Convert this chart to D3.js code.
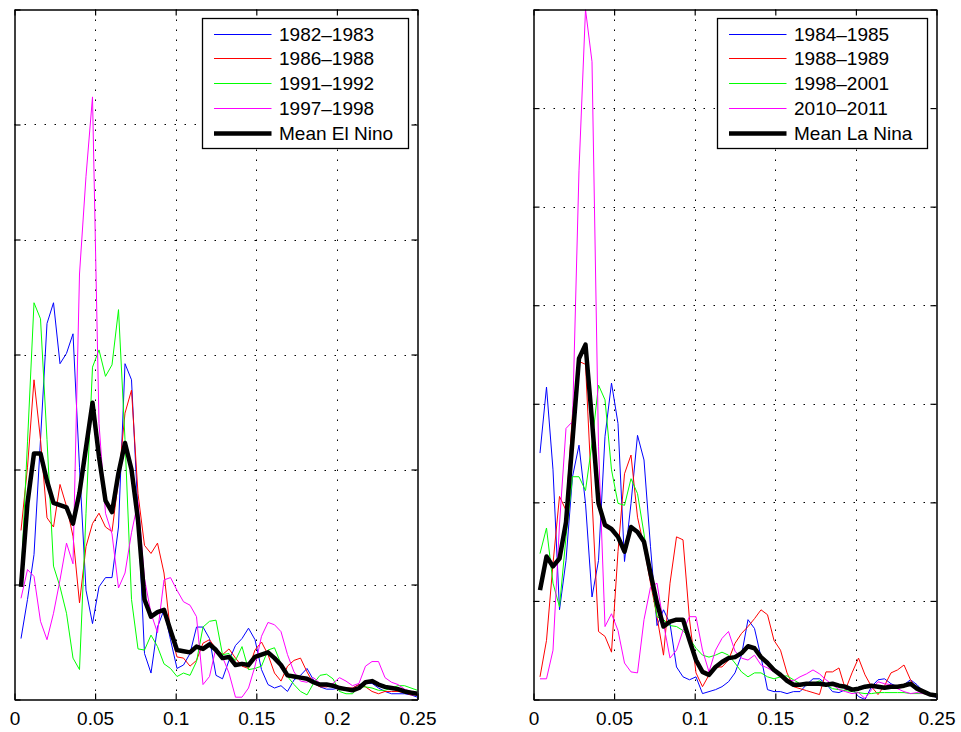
<!DOCTYPE html>
<html>
<head>
<meta charset="utf-8">
<script src="https://cdn.jsdelivr.net/npm/d3@7"></script>
<style>
  body { margin: 0; background: #fff; }
  svg text { font-family: "Liberation Sans", Arial, Helvetica, sans-serif; }
</style>
</head>
<body>
<div id="chart"></div>
<script>
// 62 spectral estimates per record, frequency f = k/248 (k = 1..62)
const nFreq = 62;
const freqs = d3.range(1, nFreq + 1).map(k => k / 248);
const xTicks = [0, 0.05, 0.1, 0.15, 0.2, 0.25];

const elNinoYears = ["1982\u20131983", "1986\u20131988", "1991\u20131992", "1997\u20131998"];
const laNinaYears = ["1984\u20131985", "1988\u20131989", "1998\u20132001", "2010\u20132011"];
const seriesColors = ["#0000ff", "#ff0000", "#00ff00", "#ff00ff"];

// El Nino events (left panel), arbitrary units, one grid step = 1
const elNino8283 = [0.53,0.87,1.26,2.26,3.27,3.45,2.92,3.01,3.18,2.02,
  0.95,0.66,0.98,1.06,1.06,1.50,2.92,2.78,1.62,0.40,
  0.23,0.63,0.78,0.52,0.27,0.30,0.40,0.63,0.63,0.53,
  0.21,0.18,0.34,0.47,0.53,0.62,0.52,0.26,0.13,0.10,
  0.12,0.07,0.17,0.21,0.27,0.17,0.11,0.09,0.09,0.10,
  0.08,0.10,0.13,0.14,0.14,0.10,0.07,0.05,0.05,0.05,
  0.04,0.02];
const elNino8688 = [1.47,2.02,2.78,2.26,1.58,1.50,1.87,1.68,1.42,0.84,
  1.33,1.53,1.62,1.50,1.46,1.91,2.49,2.69,1.79,1.34,
  1.27,1.36,1.10,0.58,0.37,0.36,0.29,0.34,0.49,0.52,
  0.44,0.39,0.44,0.36,0.29,0.27,0.43,0.50,0.39,0.23,
  0.16,0.29,0.34,0.36,0.24,0.14,0.11,0.11,0.12,0.10,
  0.10,0.10,0.13,0.11,0.07,0.05,0.07,0.07,0.07,0.06,
  0.04,0.04];
const elNino9192 = [1.04,2.24,3.45,3.31,2.26,1.16,0.98,0.75,0.36,0.26,
  1.62,2.89,3.04,2.81,2.91,3.39,2.26,0.87,0.44,0.43,
  0.56,0.46,0.31,0.27,0.20,0.23,0.21,0.33,0.63,0.68,
  0.69,0.39,0.40,0.34,0.46,0.26,0.27,0.29,0.43,0.45,
  0.31,0.20,0.13,0.07,0.04,0.14,0.21,0.22,0.18,0.07,
  0.05,0.05,0.11,0.11,0.10,0.08,0.08,0.10,0.12,0.12,
  0.10,0.08];
const elNino9798 = [0.88,1.13,1.07,0.68,0.52,0.75,1.04,1.36,1.18,3.70,
  4.55,5.24,2.40,1.62,1.44,0.97,1.10,1.45,1.72,1.05,
  0.75,0.58,1.04,1.06,0.95,0.85,0.82,0.72,0.13,0.20,
  0.45,0.37,0.23,0.02,0.02,0.10,0.29,0.55,0.67,0.65,
  0.59,0.39,0.24,0.16,0.15,0.19,0.14,0.11,0.14,0.19,
  0.16,0.12,0.14,0.29,0.33,0.33,0.19,0.15,0.13,0.09,
  0.07,0.05];
const elNinoMean = [0.98,1.71,2.14,2.14,1.90,1.71,1.69,1.67,1.53,1.80,
  2.19,2.58,2.11,1.73,1.63,1.97,2.23,2.00,1.56,0.87,
  0.72,0.76,0.78,0.60,0.43,0.42,0.41,0.46,0.44,0.48,
  0.43,0.36,0.37,0.30,0.31,0.30,0.37,0.39,0.41,0.36,
  0.30,0.21,0.20,0.19,0.18,0.15,0.13,0.13,0.12,0.10,
  0.09,0.08,0.10,0.15,0.16,0.13,0.11,0.10,0.09,0.07,
  0.06,0.05];

// La Nina events (right panel)
const laNina8485 = [2.50,3.17,2.33,0.91,1.41,2.26,2.58,1.99,1.04,1.41,
  2.67,3.21,2.80,1.40,1.99,2.68,2.43,1.55,0.75,0.91,
  0.77,0.33,0.23,0.20,0.23,0.06,0.08,0.10,0.13,0.18,
  0.27,0.45,0.81,0.72,0.43,0.10,0.08,0.08,0.06,0.08,
  0.08,0.15,0.21,0.21,0.16,0.08,0.07,0.10,0.11,0.03,
  0.00,0.13,0.20,0.21,0.16,0.13,0.15,0.20,0.15,0.08,
  0.05,0.02];
const laNina8889 = [0.23,0.60,1.38,2.06,1.92,2.90,3.43,3.40,2.04,0.69,
  0.64,0.48,1.50,2.29,2.48,1.85,1.55,1.18,0.84,0.45,
  1.18,1.65,1.62,0.81,0.27,0.13,0.25,0.33,0.33,0.40,
  0.57,0.67,0.74,0.82,0.91,0.86,0.60,0.50,0.27,0.13,
  0.11,0.09,0.07,0.05,0.28,0.28,0.32,0.10,0.27,0.42,
  0.25,0.13,0.05,0.14,0.27,0.30,0.35,0.20,0.10,0.06,
  0.05,0.03];
const laNina9801 = [1.48,1.74,1.18,0.94,1.65,2.26,2.26,2.12,2.60,3.19,
  3.04,2.33,1.99,1.97,2.24,2.09,1.68,1.24,0.84,0.81,
  0.75,0.74,0.70,0.62,0.52,0.45,0.43,0.45,0.48,0.45,
  0.37,0.28,0.23,0.27,0.27,0.23,0.21,0.23,0.24,0.20,
  0.16,0.14,0.16,0.19,0.15,0.11,0.10,0.09,0.08,0.07,
  0.06,0.06,0.07,0.07,0.07,0.07,0.07,0.06,0.06,0.06,
  0.06,0.06];
const laNina1011 = [0.21,0.21,0.50,1.78,2.75,2.82,5.37,7.00,6.47,2.57,
  0.74,0.87,0.70,0.37,0.28,0.27,0.81,1.14,1.18,0.77,
  0.42,0.50,0.70,0.84,0.84,0.50,0.28,0.50,0.62,0.69,
  0.49,0.42,0.40,0.45,0.35,0.32,0.28,0.25,0.20,0.19,
  0.23,0.26,0.30,0.26,0.20,0.15,0.10,0.08,0.06,0.07,
  0.01,0.10,0.18,0.16,0.15,0.11,0.08,0.06,0.07,0.06,
  0.05,0.03];
const laNinaMean = [1.11,1.45,1.35,1.43,1.80,2.63,3.46,3.60,2.83,1.99,
  1.77,1.73,1.65,1.50,1.75,1.70,1.60,1.28,0.98,0.74,
  0.79,0.81,0.81,0.60,0.40,0.28,0.25,0.33,0.38,0.42,
  0.43,0.47,0.54,0.52,0.43,0.37,0.30,0.25,0.19,0.15,
  0.15,0.16,0.16,0.16,0.15,0.16,0.14,0.13,0.10,0.11,
  0.13,0.14,0.13,0.12,0.13,0.13,0.14,0.16,0.11,0.08,
  0.05,0.04];

const width = 961, height = 732;
const plotTop = 9.5, plotBottom = 699.5;

const svg = d3.select("#chart").append("svg")
  .attr("width", width)
  .attr("height", height)
  .style("background", "#fff");

const panels = [
  {id: "elnino", left: 14.5, right: 417.5, yMax: 6, years: elNinoYears,
   series: [elNino8283, elNino8688, elNino9192, elNino9798], mean: elNinoMean,
   meanLabel: "Mean El Nino", legendX: 202.5, legendW: 206},
  {id: "lanina", left: 533.5, right: 936.5, yMax: 7, years: laNinaYears,
   series: [laNina8485, laNina8889, laNina9801, laNina1011], mean: laNinaMean,
   meanLabel: "Mean La Nina", legendX: 717.5, legendW: 210}
];

panels.forEach(drawPanel);

function drawPanel(p) {
  const x = d3.scaleLinear().domain([0, 0.25]).range([p.left, p.right]);
  const y = d3.scaleLinear().domain([0, p.yMax]).range([plotBottom, plotTop]);
  const g = svg.append("g").attr("id", p.id);

  g.append("clipPath").attr("id", "clip-" + p.id)
    .append("rect")
    .attr("x", p.left).attr("y", plotTop)
    .attr("width", p.right - p.left).attr("height", plotBottom - plotTop);

  // dotted grid
  const grid = g.append("g")
    .attr("stroke", "#000")
    .attr("stroke-width", 1)
    .attr("stroke-dasharray", "1.5,8.5");
  grid.selectAll(".vgrid")
    .data(xTicks.slice(1, -1))
    .enter().append("line")
    .attr("x1", d => Math.round(x(d)) + 0.5).attr("x2", d => Math.round(x(d)) + 0.5)
    .attr("y1", plotTop).attr("y2", plotBottom);
  grid.selectAll(".hgrid")
    .data(d3.range(1, p.yMax))
    .enter().append("line")
    .attr("y1", d => Math.round(y(d)) + 0.5).attr("y2", d => Math.round(y(d)) + 0.5)
    .attr("x1", p.left).attr("x2", p.right);

  const line = d3.line()
    .x((d, i) => x(freqs[i]))
    .y(d => y(d));

  const lines = g.append("g").attr("clip-path", "url(#clip-" + p.id + ")");
  p.series.forEach(function (s, i) {
    lines.append("path")
      .datum(s)
      .attr("fill", "none")
      .attr("stroke", seriesColors[i])
      .attr("stroke-width", 1)
      .attr("d", line);
  });
  lines.append("path")
    .datum(p.mean)
    .attr("fill", "none")
    .attr("stroke", "#000")
    .attr("stroke-width", 4.5)
    .attr("stroke-linejoin", "round")
    .attr("d", line);

  // box axes with inward ticks
  const bottomAxis = g.append("g")
    .attr("transform", "translate(0," + plotBottom + ")")
    .call(d3.axisBottom(x).tickValues(xTicks).tickFormat(d => String(d))
      .tickSizeInner(-6).tickSizeOuter(0).tickPadding(12));
  const topAxis = g.append("g")
    .attr("transform", "translate(0," + plotTop + ")")
    .call(d3.axisTop(x).tickValues(xTicks).tickFormat("")
      .tickSizeInner(-6).tickSizeOuter(0));
  const leftAxis = g.append("g")
    .attr("transform", "translate(" + p.left + ",0)")
    .call(d3.axisLeft(y).ticks(p.yMax).tickFormat("")
      .tickSizeInner(-6).tickSizeOuter(0));
  const rightAxis = g.append("g")
    .attr("transform", "translate(" + p.right + ",0)")
    .call(d3.axisRight(y).ticks(p.yMax).tickFormat("")
      .tickSizeInner(-6).tickSizeOuter(0));

  [bottomAxis, topAxis, leftAxis, rightAxis].forEach(function (a) {
    a.select(".domain").attr("stroke", "#000").attr("stroke-width", 1.5);
    a.selectAll(".tick line").attr("stroke", "#000").attr("stroke-width", 1.2);
  });
  bottomAxis.selectAll(".tick text")
    .attr("fill", "#000")
    .style("font-size", "19px")
    .style("font-family", '"Liberation Sans", Arial, Helvetica, sans-serif');

  // legend
  const rowY = d3.range(5).map(i => 33.5 + i * 24.9);
  const legend = g.append("g").attr("class", "legend");
  legend.append("rect")
    .attr("x", p.legendX).attr("y", 18.5)
    .attr("width", p.legendW).attr("height", 130)
    .attr("fill", "#fff")
    .attr("stroke", "#000")
    .attr("stroke-width", 1.3);
  const labels = p.years.concat([p.meanLabel]);
  const colors = seriesColors.concat(["#000"]);
  labels.forEach(function (lab, i) {
    legend.append("line")
      .attr("x1", p.legendX + 11.5).attr("x2", p.legendX + 69)
      .attr("y1", Math.round(rowY[i]) + 0.5).attr("y2", Math.round(rowY[i]) + 0.5)
      .attr("stroke", colors[i])
      .attr("stroke-width", i === 4 ? 4.5 : 1);
    legend.append("text")
      .attr("x", p.legendX + 76.5)
      .attr("y", rowY[i] + 7)
      .attr("fill", "#000")
      .style("font-size", "19px")
      .text(lab);
  });
}
</script>
</body>
</html>
